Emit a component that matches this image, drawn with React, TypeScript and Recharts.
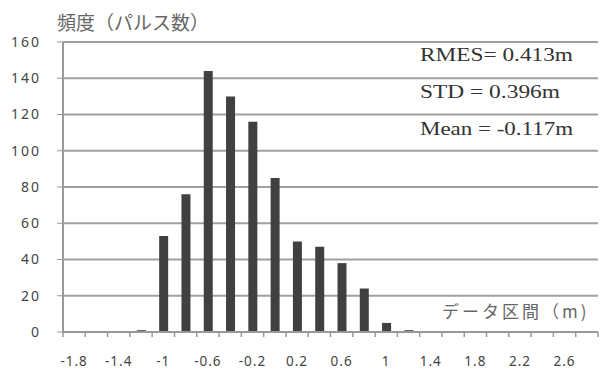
import React from "react";
import { BarChart, Bar, XAxis, YAxis, CartesianGrid } from "recharts";

const bins = [
  "-1.8", "-1.6", "-1.4", "-1.2", "-1", "-0.8", "-0.6", "-0.4", "-0.2", "0",
  "0.2", "0.4", "0.6", "0.8", "1", "1.2", "1.4", "1.6", "1.8", "2", "2.2",
  "2.4", "2.6", "2.8",
];
const counts = [0, 0, 0, 1, 53, 76, 144, 130, 116, 85, 50, 47, 38, 24, 5, 1, 0, 0, 0, 0, 0, 0, 0, 0];
const yTicks = [0, 20, 40, 60, 80, 100, 120, 140, 160];
const stats = ["RMES= 0.413m", "STD = 0.396m", "Mean = -0.117m"];

const data = bins.map((b, i) => ({ bin: b, count: counts[i] }));

const W = 600;
const H = 372;
const LEFT = 63;
const RIGHT = 2;
const BW = (W - LEFT - RIGHT) / bins.length;

function XTick(props: any) {
  const { x, y, index, payload } = props;
  const last = index === bins.length - 1;
  return (
    <g>
      <line x1={x - BW / 2} x2={x - BW / 2} y1={y} y2={y + 5} stroke="#999" strokeWidth={1.5} />
      {last && <line x1={x + BW / 2} x2={x + BW / 2} y1={y} y2={y + 5} stroke="#999" strokeWidth={1.5} />}
      {index % 2 === 0 && (
        <text x={x} y={y + 34} textAnchor="middle" fontSize={13.5} letterSpacing={1} fill="#444">
          {payload.value}
        </text>
      )}
    </g>
  );
}

export default function App() {
  return (
    <div style={{ position: "absolute", left: 0, top: 0, width: W, height: H, background: "#fff", fontFamily: "'Noto Sans', sans-serif" }}>
      <BarChart width={W} height={H} data={data} margin={{ top: 42, right: RIGHT, bottom: 0, left: 0 }} barCategoryGap={0}>
        <CartesianGrid vertical={false} stroke="#a0a0a0" strokeWidth={2} />
        <XAxis
          dataKey="bin"
          interval={0}
          height={40}
          tickLine={false}
          tickSize={0}
          tickMargin={0}
          axisLine={{ stroke: "#999", strokeWidth: 2 }}
          tick={<XTick />}
        />
        <YAxis
          width={LEFT}
          domain={[0, 160]}
          ticks={yTicks}
          tickSize={6}
          tickMargin={16}
          tickLine={{ stroke: "#999" }}
          axisLine={{ stroke: "#999", strokeWidth: 2 }}
          tick={{ fontSize: 14, fill: "#444", letterSpacing: 2 }}
        />
        <Bar dataKey="count" fill="#404040" barSize={9} isAnimationActive={false} />
        <text x={57} y={30} fontSize={19} fill="#666" fontFamily="'Noto Sans CJK JP'">
          頻度（パルス数）
        </text>
        <text x={442} y={318} fontSize={17} fill="#666" letterSpacing={3} fontFamily="'Noto Sans CJK JP'">
          データ区間（m)
        </text>
        {stats.map((s, i) => (
          <text key={s} x={420} y={61 + i * 37} fontSize={19} fill="#333" fontFamily="'Liberation Serif', serif" textLength={i === 1 ? 140 : 153} lengthAdjust="spacingAndGlyphs">
            {s}
          </text>
        ))}
      </BarChart>
    </div>
  );
}
